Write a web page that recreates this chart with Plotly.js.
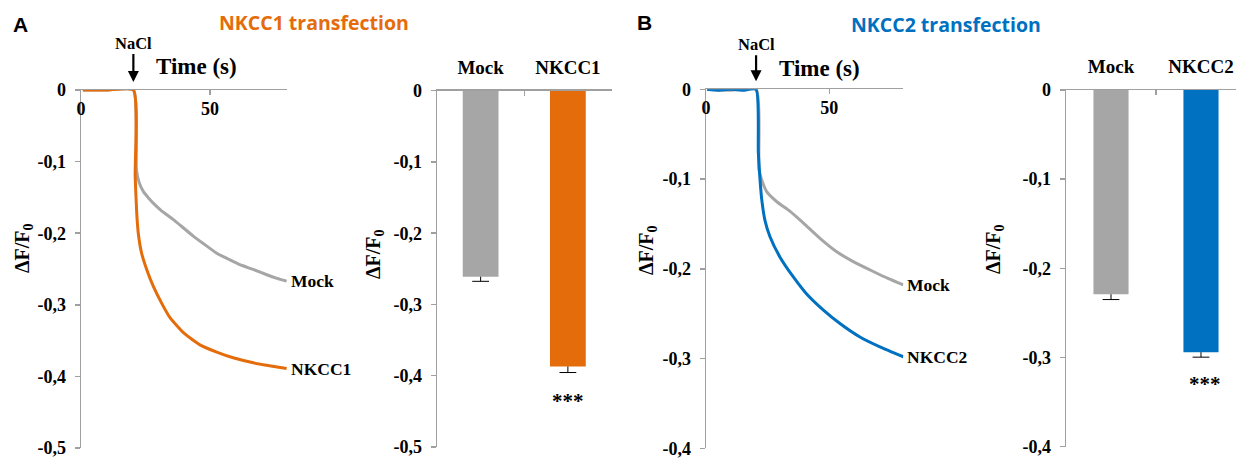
<!DOCTYPE html>
<html>
<head>
<meta charset="utf-8">
<script src="https://cdn.plot.ly/plotly-3.0.1.min.js"></script>
<style>html,body{margin:0;padding:0;background:#fff;}#chart{width:1236px;height:458px;}</style>
</head>
<body>
<div id="chart"></div>
<script>
// ---------- Data ----------
// Panel A, time courses
const timeA_mock  = [0.7, 10, 20.3, 21.5, 22.6, 24.2, 26, 28.0, 31, 35.8, 39.5, 43.5, 48, 52.6, 57, 61.6, 67, 72.0, 76, 79.7];
const dfA_mock    = [0, 0, 0, -0.112, -0.130, -0.142, -0.150, -0.158, -0.168, -0.181, -0.192, -0.204, -0.216, -0.228, -0.236, -0.244, -0.251, -0.258, -0.263, -0.267];
const timeA_nkcc1 = [0.7, 10, 20.3, 21.0, 21.6, 22.2, 23.5, 25.5, 28.0, 31.3, 34.5, 39.7, 46.1, 52.6, 59.0, 66.8, 73, 79.7];
const dfA_nkcc1   = [0, 0, 0, -0.120, -0.172, -0.200, -0.228, -0.251, -0.274, -0.298, -0.318, -0.339, -0.356, -0.366, -0.374, -0.381, -0.385, -0.389];
// Panel A, bar summary
const barCatsA  = ['Mock', 'NKCC1'];
const barValsA  = [-0.261, -0.387];
const barErrsA  = [0.0065, 0.0085];

// Panel B, time courses
const timeB_mock  = [0.4, 10, 20.3, 21.5, 22.6, 24.6, 28.6, 34.1, 39.5, 46.2, 53.0, 59.7, 67.8, 74, 80];
const dfB_mock    = [0, -0.001, 0, -0.090, -0.101, -0.114, -0.125, -0.136, -0.149, -0.166, -0.181, -0.192, -0.203, -0.211, -0.218];
const timeB_nkcc2 = [0.4, 5, 10, 15, 20.3, 21.2, 21.9, 22.6, 23.9, 25.9, 30.0, 35.4, 40.8, 47.6, 54.3, 62.4, 70.5, 80];
const dfB_nkcc2   = [0, -0.001, 0, -0.001, 0, -0.070, -0.101, -0.123, -0.146, -0.164, -0.187, -0.209, -0.228, -0.246, -0.261, -0.276, -0.287, -0.298];
// Panel B, bar summary
const barCatsB  = ['Mock', 'NKCC2'];
const barValsB  = [-0.229, -0.294];
const barErrsB  = [0.006, 0.0056];

// Tick labels
const timeTicks  = [0, 50];
const yTicksA    = [0, -0.1, -0.2, -0.3, -0.4, -0.5];
const yLabelsA   = ['0', '-0,1', '-0,2', '-0,3', '-0,4', '-0,5'];
const yTicksB    = [0, -0.1, -0.2, -0.3, -0.4];
const yLabelsB   = ['0', '-0,1', '-0,2', '-0,3', '-0,4'];
const naclTime   = 20.3;

// ---------- Styles ----------
const W = 1236, H = 458;
const GREY = '#A6A6A6', ORANGE = '#E46C0A', BLUE = '#0070C0', AXIS = '#A0A0A0';
const SERIF = 'Liberation Serif, Times New Roman, serif';
const SANS = 'Open Sans, Arial, sans-serif';
const px = v => v / W;
const py = v => 1 - v / H;

function errTraces(cats, vals, errs, xa, ya) {
  const lx = [], ly = [];
  cats.forEach((c, i) => { lx.push(c, c, null); ly.push(vals[i], vals[i] - errs[i], null); });
  return [
    {type: 'scatter', mode: 'lines', x: lx, y: ly, xaxis: xa, yaxis: ya,
     line: {color: '#000', width: 1}, hoverinfo: 'skip'},
    {type: 'scatter', mode: 'markers', x: cats, y: vals.map((v, i) => v - errs[i]), xaxis: xa, yaxis: ya,
     marker: {symbol: 'line-ew', size: 12, line: {color: '#000', width: 1}}, hoverinfo: 'skip'}
  ];
}

const smooth = {shape: 'spline', smoothing: 0.5};
const data = [
  {type: 'scatter', mode: 'lines', x: timeA_mock, y: dfA_mock, xaxis: 'x', yaxis: 'y', line: Object.assign({color: GREY, width: 3}, smooth)},
  {type: 'scatter', mode: 'lines', x: timeA_nkcc1, y: dfA_nkcc1, xaxis: 'x', yaxis: 'y', line: Object.assign({color: ORANGE, width: 3}, smooth)},
  {type: 'bar', x: barCatsA, y: barValsA, xaxis: 'x2', yaxis: 'y2', width: 0.41, marker: {color: [GREY, ORANGE]}},
  ...errTraces(barCatsA, barValsA, barErrsA, 'x2', 'y2'),
  {type: 'scatter', mode: 'lines', x: timeB_mock, y: dfB_mock, xaxis: 'x3', yaxis: 'y3', line: Object.assign({color: GREY, width: 3}, smooth)},
  {type: 'scatter', mode: 'lines', x: timeB_nkcc2, y: dfB_nkcc2, xaxis: 'x3', yaxis: 'y3', line: Object.assign({color: BLUE, width: 3}, smooth)},
  {type: 'bar', x: barCatsB, y: barValsB, xaxis: 'x4', yaxis: 'y4', width: 0.39, marker: {color: [GREY, BLUE]}},
  ...errTraces(barCatsB, barValsB, barErrsB, 'x4', 'y4')
];

const tickFont = {family: SERIF, size: 18, color: '#000', weight: 'bold'};
function timeAxis(x0, pxPerS, yName) {
  return {domain: [px(x0), px(x0 + 80 * pxPerS)], range: [0, 80], anchor: yName, side: 'top',
    tickvals: timeTicks, ticks: 'inside', ticklen: 5, tickcolor: AXIS, tickwidth: 1.5,
    ticklabelposition: 'inside', ticklabeloverflow: 'allow', ticklabelstandoff: 8,
    showline: true, linecolor: AXIS, linewidth: 1.5, showgrid: false, zeroline: false, tickfont: tickFont, fixedrange: true};
}
function valAxis(top, bottom, rng, vals, labels, xName) {
  return {domain: [py(bottom), py(top)], range: rng, anchor: xName, tickvals: vals, ticktext: labels,
    ticks: 'outside', ticklen: 5, tickcolor: AXIS, tickwidth: 1.5, ticklabelstandoff: 5, ticklabeloverflow: 'allow',
    showline: true, linecolor: AXIS, linewidth: 1.5, showgrid: false, zeroline: false, tickfont: tickFont, fixedrange: true};
}
function catAxis(x0, x1, rng, yName) {
  return {type: 'category', domain: [px(x0), Math.min(1, px(x1))], range: rng, anchor: yName, side: 'top',
    tickson: 'boundaries', ticks: 'inside', ticklen: 5, tickcolor: AXIS, tickwidth: 1.5, ticklabelstandoff: 8,
    showline: true, linecolor: AXIS, linewidth: 1.5, showgrid: false, zeroline: false,
    tickfont: {family: SERIF, size: 19, color: '#000', weight: 'bold'}, fixedrange: true};
}

const serifBold = (s) => ({family: SERIF, size: s, color: '#000', weight: 'bold'});
const paperText = (x, y, text, font, extra) => Object.assign({xref: 'paper', yref: 'paper', x: px(x), y: py(y), text: text,
  showarrow: false, font: font, xanchor: 'center', yanchor: 'middle'}, extra || {});
const yTitle = (x, y) => paperText(x, y, 'ΔF/F<sub>0</sub>', serifBold(20), {textangle: -90});

const annotations = [
  paperText(20, 24, 'A', {family: 'Liberation Sans, Arial', size: 21, color: '#000', weight: 'bold'}),
  paperText(314, 23, 'NKCC1 transfection', {family: SANS, size: 19.5, color: ORANGE, weight: 'bold'}),
  paperText(644, 22, 'B', {family: 'Liberation Sans, Arial', size: 21, color: '#000', weight: 'bold'}),
  paperText(946, 25, 'NKCC2 transfection', {family: SANS, size: 19.5, color: BLUE, weight: 'bold'}),
  {xref: 'x', yref: 'y', x: naclTime, y: 0, ax: 0, ay: -47, standoff: 8, text: 'NaCl', showarrow: true,
   arrowhead: 2, arrowsize: 1, arrowwidth: 2.2, arrowcolor: '#000', font: serifBold(16.5)},
  {xref: 'x3', yref: 'y3', x: naclTime, y: 0, ax: 0, ay: -45, standoff: 8, text: 'NaCl', showarrow: true,
   arrowhead: 2, arrowsize: 1, arrowwidth: 2.2, arrowcolor: '#000', font: serifBold(16.5)},
  paperText(196, 67, 'Time (s)', serifBold(23)),
  paperText(819, 68, 'Time (s)', serifBold(23)),
  {xref: 'x', yref: 'y', x: timeA_mock[timeA_mock.length - 1], y: dfA_mock[dfA_mock.length - 1], text: 'Mock', showarrow: false, xanchor: 'left', xshift: 2, font: serifBold(17.5)},
  {xref: 'x', yref: 'y', x: timeA_nkcc1[timeA_nkcc1.length - 1], y: dfA_nkcc1[dfA_nkcc1.length - 1], text: 'NKCC1', showarrow: false, xanchor: 'left', xshift: 2, font: serifBold(17.5)},
  {xref: 'x3', yref: 'y3', x: timeB_mock[timeB_mock.length - 1], y: dfB_mock[dfB_mock.length - 1], text: 'Mock', showarrow: false, xanchor: 'left', xshift: 2, font: serifBold(17.5)},
  {xref: 'x3', yref: 'y3', x: timeB_nkcc2[timeB_nkcc2.length - 1], y: dfB_nkcc2[dfB_nkcc2.length - 1], text: 'NKCC2', showarrow: false, xanchor: 'left', xshift: 2, font: serifBold(17.5)},
  {xref: 'x2', yref: 'y2', x: barCatsA[1], y: barValsA[1] - barErrsA[1], text: '***', showarrow: false, yanchor: 'middle', yshift: -28, font: serifBold(21)},
  {xref: 'x4', yref: 'y4', x: barCatsB[1], y: barValsB[1] - barErrsB[1], text: '***', showarrow: false, yanchor: 'middle', yshift: -27, xshift: 4, font: serifBold(21)},
  yTitle(23, 248), yTitle(375, 254), yTitle(647, 250), yTitle(994, 249)
];

const layout = {
  width: W, height: H, margin: {l: 0, r: 0, t: 0, b: 0}, showlegend: false,
  paper_bgcolor: '#fff', plot_bgcolor: 'rgba(0,0,0,0)', bargap: 0.6,
  xaxis:  timeAxis(81, 2.58, 'y'),
  yaxis:  valAxis(90, 448, [-0.5, 0], yTicksA, yLabelsA, 'x'),
  xaxis2: catAxis(437, 611.5, [-0.5, 1.5], 'y2'),
  yaxis2: valAxis(90.7, 447, [-0.5, 0], yTicksA, yLabelsA, 'x2'),
  xaxis3: timeAxis(706, 2.467, 'y3'),
  yaxis3: valAxis(89.3, 448.3, [-0.4, 0], yTicksB, yLabelsB, 'x3'),
  xaxis4: catAxis(1066, 1236, [-0.5, 1.389], 'y4'),
  yaxis4: valAxis(90, 446.7, [-0.4, 0], yTicksB, yLabelsB, 'x4'),
  annotations: annotations
};

Plotly.newPlot('chart', data, layout, {staticPlot: true, displayModeBar: false});
</script>
</body>
</html>
